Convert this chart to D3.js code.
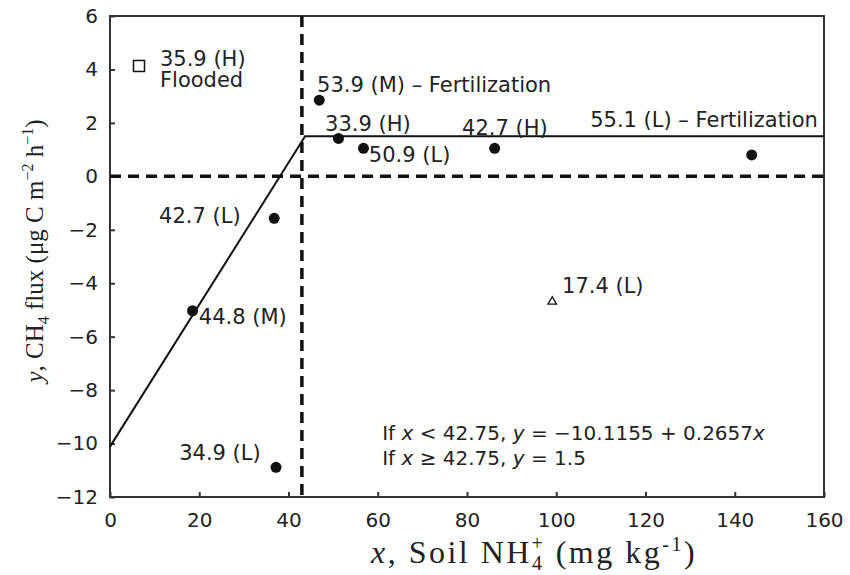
<!DOCTYPE html>
<html>
<head>
<meta charset="utf-8">
<title>CH4 flux vs soil NH4+</title>
<script src="https://cdn.jsdelivr.net/npm/d3@7"></script>
<style>
  body { margin: 0; background: #fff; }
  .tick text { font-family: "DejaVu Sans", Verdana, sans-serif; font-size: 20px; fill: #222; }
  .note { font-family: "DejaVu Sans", Verdana, sans-serif; font-size: 21px; fill: #222; }
  .title { font-family: "Liberation Serif", "Times New Roman", serif; fill: #222; }
</style>
</head>
<body>
<script>
// field sites (filled circles): x = soil NH4+, y = CH4 flux
var siteNames = ["53.9 (M) \u2013 Fertilization", "33.9 (H)", "50.9 (L)", "42.7 (H)",
                 "55.1 (L) \u2013 Fertilization", "42.7 (L)", "44.8 (M)", "34.9 (L)"];
var siteX = [46.9, 51.2, 56.8, 86.2, 143.8, 36.8, 18.5, 37.2];
var siteY = [2.85, 1.42, 1.05, 1.05, 0.8, -1.57, -5.03, -10.89];
// where each site's label sits (data units)
var siteLabelX = [46.4, 48.2, 58.0, 78.9, 107.6, 11.0, 19.9, 15.5];
var siteLabelY = [3.17, 1.71, 0.54, 1.55, 1.85, -1.74, -5.53, -10.62];

// flooded site (open square) and the odd one (open triangle)
var floodX = [6.5], floodY = [4.13];
var floodLabel = ["35.9 (H)", "Flooded"];
var floodLabelX = [11.2], floodLabelY = [4.13, 3.34];
var triX = [99.1], triY = [-4.69];
var triLabel = "17.4 (L)";
var triLabelX = 101.3, triLabelY = -4.37;

// fitted broken-stick line
var fitX = [0, 43.72, 160];
var fitY = [-10.1155, 1.5, 1.5];
var breakX = 43;

var xTicks = [0, 20, 40, 60, 80, 100, 120, 140, 160];
var yTicks = [-12, -10, -8, -6, -4, -2, 0, 2, 4, 6];

var width = 850, height = 575;
var plotLeft = 110, plotTop = 16, plotRight = 824, plotBottom = 497;

var svg = d3.select("body").append("svg")
    .attr("width", width)
    .attr("height", height);

var x = d3.scaleLinear().domain([0, 160]).range([plotLeft, plotRight]);
var y = d3.scaleLinear().domain([-12, 6]).range([plotBottom, plotTop]);

// axes, ticks point inward
svg.append("g")
    .attr("transform", "translate(0," + plotBottom + ")")
    .call(d3.axisBottom(x).tickValues(xTicks).tickSize(-5).tickPadding(16));
svg.append("g")
    .attr("transform", "translate(" + plotLeft + ",0)")
    .call(d3.axisLeft(y).tickValues(yTicks).tickSize(-5).tickPadding(12));
svg.selectAll(".domain").remove();
svg.selectAll(".tick line").attr("stroke", "#333").attr("stroke-width", 2);

// frame
svg.append("rect")
    .attr("x", x(0)).attr("y", y(6))
    .attr("width", x(160) - x(0)).attr("height", y(-12) - y(6))
    .attr("fill", "none").attr("stroke", "#333").attr("stroke-width", 2);

// dashed reference lines
svg.append("line")
    .attr("x1", x(0)).attr("x2", x(160)).attr("y1", y(0)).attr("y2", y(0))
    .attr("stroke", "#111").attr("stroke-width", 3.5).attr("stroke-dasharray", "11,7");
svg.append("line")
    .attr("x1", x(breakX)).attr("x2", x(breakX)).attr("y1", y(6)).attr("y2", y(-12))
    .attr("stroke", "#111").attr("stroke-width", 3.5).attr("stroke-dasharray", "11,7");

// fit line
var line = d3.line()
    .x(function(d) { return x(d[0]); })
    .y(function(d) { return y(d[1]); });
svg.append("path")
    .datum(d3.zip(fitX, fitY))
    .attr("d", line)
    .attr("fill", "none").attr("stroke", "#111").attr("stroke-width", 2);

// points
svg.selectAll("circle.site")
    .data(d3.zip(siteX, siteY))
    .enter().append("circle")
    .attr("class", "site")
    .attr("cx", function(d) { return x(d[0]); })
    .attr("cy", function(d) { return y(d[1]); })
    .attr("r", 5.5)
    .attr("fill", "#111");

svg.selectAll("rect.flood")
    .data(d3.zip(floodX, floodY))
    .enter().append("rect")
    .attr("class", "flood")
    .attr("x", function(d) { return x(d[0]) - 5.5; })
    .attr("y", function(d) { return y(d[1]) - 5.5; })
    .attr("width", 11).attr("height", 11)
    .attr("fill", "#fff").attr("stroke", "#111").attr("stroke-width", 1.5);

svg.selectAll("path.tri")
    .data(d3.zip(triX, triY))
    .enter().append("path")
    .attr("class", "tri")
    .attr("d", d3.symbol().type(d3.symbolTriangle).size(32))
    .attr("transform", function(d) { return "translate(" + x(d[0]) + "," + y(d[1]) + ")"; })
    .attr("fill", "#fff").attr("stroke", "#111").attr("stroke-width", 1.3);

// labels
svg.selectAll("text.site")
    .data(siteNames)
    .enter().append("text")
    .attr("class", "note")
    .attr("x", function(d, i) { return x(siteLabelX[i]); })
    .attr("y", function(d, i) { return y(siteLabelY[i]); })
    .text(function(d) { return d; });

svg.selectAll("text.flood")
    .data(floodLabel)
    .enter().append("text")
    .attr("class", "note")
    .attr("x", x(floodLabelX[0]))
    .attr("y", function(d, i) { return y(floodLabelY[i]); })
    .text(function(d) { return d; });

svg.append("text")
    .attr("class", "note")
    .attr("x", x(triLabelX)).attr("y", y(triLabelY))
    .text(triLabel);

// equation
var eq = svg.append("g").attr("class", "note").style("font-size", "20px");
var eq1 = eq.append("text").attr("x", x(61)).attr("y", y(-9.87));
eq1.append("tspan").text("If ");
eq1.append("tspan").style("font-style", "italic").text("x");
eq1.append("tspan").text(" < 42.75, ");
eq1.append("tspan").style("font-style", "italic").text("y");
eq1.append("tspan").text(" = \u221210.1155 + 0.2657");
eq1.append("tspan").style("font-style", "italic").text("x");
var eq2 = eq.append("text").attr("x", x(61)).attr("y", y(-10.8));
eq2.append("tspan").text("If ");
eq2.append("tspan").style("font-style", "italic").text("x");
eq2.append("tspan").text(" \u2265 42.75, ");
eq2.append("tspan").style("font-style", "italic").text("y");
eq2.append("tspan").text(" = 1.5");

// axis titles
var xt = svg.append("text").attr("class", "title")
    .style("font-size", "32px").style("letter-spacing", "2.5px")
    .attr("x", 534).attr("y", 563).attr("text-anchor", "middle");
xt.append("tspan").style("font-style", "italic").text("x");
xt.append("tspan").text(", Soil NH");
xt.append("tspan").attr("font-size", "20px").attr("dy", 7).text("4");
xt.append("tspan").attr("font-size", "20px").attr("dx", -13).attr("dy", -20).text("+");
xt.append("tspan").attr("dy", 13).text(" (mg kg");
xt.append("tspan").attr("font-size", "20px").attr("dy", -12).text("-1");
xt.append("tspan").attr("dy", 12).text(")");

var yt = svg.append("text").attr("class", "title")
    .style("font-size", "25px")
    .attr("transform", "translate(43,251) rotate(-90)")
    .attr("text-anchor", "middle");
yt.append("tspan").style("font-style", "italic").text("y");
yt.append("tspan").text(", CH");
yt.append("tspan").attr("font-size", "16px").attr("dy", 6).text("4");
yt.append("tspan").attr("dy", -6).text(" flux (\u03bcg C m");
yt.append("tspan").attr("font-size", "16px").attr("dy", -10).text("\u22122");
yt.append("tspan").attr("dy", 10).text(" h");
yt.append("tspan").attr("font-size", "16px").attr("dy", -10).text("\u22121");
yt.append("tspan").attr("dy", 10).text(")");
</script>
</body>
</html>
